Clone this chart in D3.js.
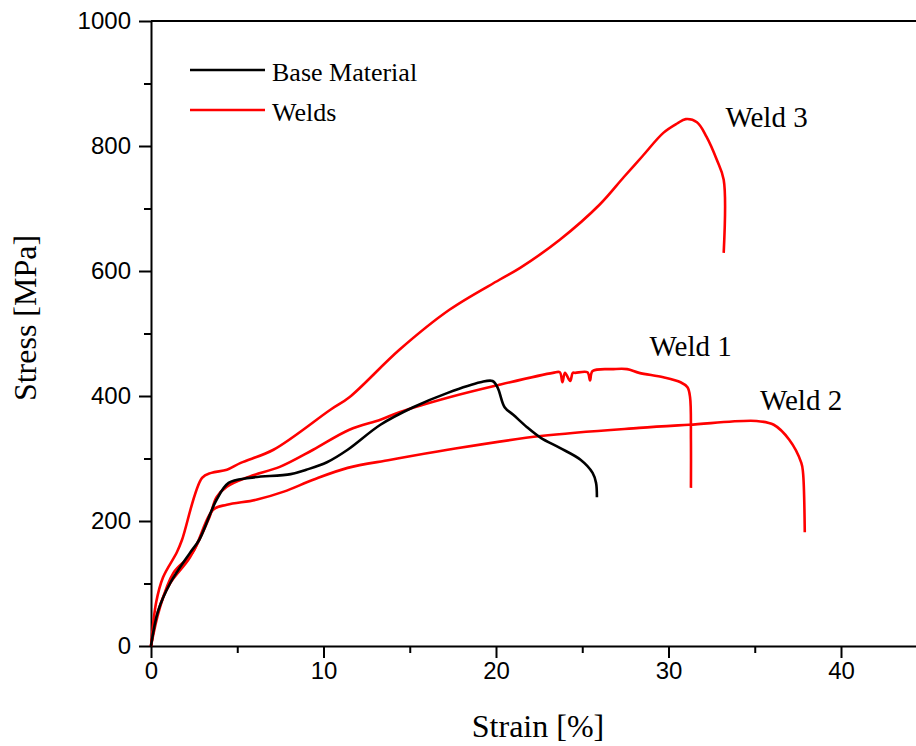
<!DOCTYPE html>
<meta charset="utf-8">
<style>
body { margin: 0; background: #fff; }
.tick text { font-family: "Liberation Sans", Arial, sans-serif; font-size: 24px; fill: #000; }
.axis path, .axis line { stroke: #000; stroke-width: 2px; }
.curve { fill: none; stroke-width: 2.6px; stroke-linejoin: round; }
.serif { font-family: "Liberation Serif", "Times New Roman", serif; fill: #000; }
</style>
<svg width="916" height="746"></svg>
<script src="https://d3js.org/d3.v7.min.js"></script>
<script>

// strain [%] / stress [MPa]
var baseStrain = [0, 0.4, 1.1, 2.26, 2.8, 3.8, 4.5, 5.7, 8.1, 9.0, 10.2, 11.4, 13.3, 15.2, 17.2, 19.1, 19.8, 20.1, 20.5, 21.0, 21.8, 22.6, 23.7, 24.9, 25.6, 25.8, 25.85];
var baseStress = [0, 55, 100, 149, 170, 234, 261, 269, 275, 282, 294, 314, 354, 382, 405, 422, 424, 413, 382, 370, 350, 333, 317, 298, 277, 261, 238];

var weld1Strain = [0, 0.4, 1.1, 2.26, 3.4, 3.8, 4.4, 5.7, 7.5, 9.4, 11.5, 13.3, 14.4, 17.3, 20.2, 23.3, 23.7, 23.85, 24.0, 24.3, 24.45, 24.6, 25.3, 25.45, 25.6, 26.8, 27.6, 28.3, 29.7, 30.7, 31.1, 31.25, 31.3, 31.3];
var weld1Stress = [0, 55, 100, 142, 207, 238, 255, 271, 287, 314, 346, 362, 374, 398, 418, 437, 438, 422, 437, 424, 437, 437, 438, 425, 440, 443, 443, 437, 430, 422, 414, 398, 330, 253];

var weld2Strain = [0, 0.5, 1.3, 2.4, 3.6, 4.4, 6.1, 7.7, 9.4, 11.4, 13.9, 17.2, 22.6, 28.3, 31.2, 35.1, 36.1, 37.0, 37.7, 37.8, 37.9];
var weld2Stress = [0, 60, 117, 149, 218, 226, 234, 247, 266, 285, 298, 314, 336, 349, 354, 360, 354, 330, 293, 277, 182];

var weld3Strain = [0, 0.3, 0.7, 1.5, 1.8, 2.96, 3.5, 4.4, 5.2, 7.1, 10.4, 11.5, 14.4, 17.3, 20.2, 21.4, 23.7, 26.0, 27.4, 28.5, 29.7, 30.5, 31.0, 31.65, 32.2, 32.8, 33.2, 33.2];
var weld3Stress = [0, 70, 110, 150, 170, 269, 277, 282, 293, 314, 378, 398, 474, 538, 586, 605, 650, 706, 750, 784, 821, 836, 843, 838, 815, 778, 746, 629];

var xTicks = [0, 10, 20, 30, 40];
var yTicks = [0, 200, 400, 600, 800, 1000];

var series = [
  {name: "Weld 3", color: "#ff0000", x: weld3Strain, y: weld3Stress, label: [33.3, 830]},
  {name: "Weld 2", color: "#ff0000", x: weld2Strain, y: weld2Stress, label: [35.3, 378]},
  {name: "Weld 1", color: "#ff0000", x: weld1Strain, y: weld1Stress, label: [28.9, 464]},
  {name: "Base Material", color: "#000000", x: baseStrain, y: baseStress}
];

var svg = d3.select("svg");

var x = d3.scaleLinear().domain([0, 45]).range([151, 151 + 45 * 17.25]);
var y = d3.scaleLinear().domain([0, 1000]).range([646, 21]);

// minor ticks
svg.append("g")
    .attr("class", "axis")
    .attr("transform", "translate(0,646)")
    .call(d3.axisBottom(x).tickValues([5, 15, 25, 35, 45]).tickSize(7).tickFormat(""))
    .select(".domain").remove();
svg.append("g")
    .attr("class", "axis")
    .attr("transform", "translate(151,0)")
    .call(d3.axisLeft(y).tickValues([100, 300, 500, 700, 900]).tickSize(7).tickFormat(""))
    .select(".domain").remove();

svg.append("g")
    .attr("class", "axis")
    .attr("transform", "translate(0,646)")
    .call(d3.axisBottom(x).tickValues(xTicks).tickSize(12).tickSizeOuter(0).tickPadding(4).tickFormat(d3.format("d")));

svg.append("g")
    .attr("class", "axis")
    .attr("transform", "translate(151,0)")
    .call(d3.axisLeft(y).tickValues(yTicks).tickSize(12).tickSizeOuter(0).tickPadding(8).tickFormat(d3.format("d")));

// top frame line
svg.append("line")
    .attr("x1", 151).attr("x2", 916)
    .attr("y1", 21).attr("y2", 21)
    .attr("stroke", "#000").attr("stroke-width", 2);

var line = d3.line()
    .x(function(d) { return x(d[0]); })
    .y(function(d) { return y(d[1]); })
    .curve(d3.curveCatmullRom.alpha(0.5));

series.forEach(function(s) {
  var pts = s.x.map(function(v, i) { return [v, s.y[i]]; });
  svg.append("path")
      .attr("class", "curve")
      .attr("stroke", s.color)
      .attr("d", line(pts));
  if (s.label) {
    svg.append("text")
        .attr("class", "serif")
        .attr("x", x(s.label[0]))
        .attr("y", y(s.label[1]))
        .attr("font-size", 29)
        .text(s.name);
  }
});

// legend
var legend = [{name: "Base Material", color: "#000"}, {name: "Welds", color: "#ff0000"}];
legend.forEach(function(l, i) {
  var ly = 70 + i * 40;
  svg.append("line")
      .attr("x1", 190).attr("x2", 265)
      .attr("y1", ly).attr("y2", ly)
      .attr("stroke", l.color).attr("stroke-width", 2.6);
  svg.append("text")
      .attr("class", "serif")
      .attr("x", 272).attr("y", ly + 11)
      .attr("font-size", 26)
      .text(l.name);
});

// axis titles
svg.append("text")
    .attr("class", "serif")
    .attr("x", 538).attr("y", 737)
    .attr("text-anchor", "middle")
    .attr("font-size", 32)
    .text("Strain [%]");

svg.append("text")
    .attr("class", "serif")
    .attr("transform", "translate(36,318) rotate(-90)")
    .attr("text-anchor", "middle")
    .attr("font-size", 32)
    .text("Stress [MPa]");

</script>
